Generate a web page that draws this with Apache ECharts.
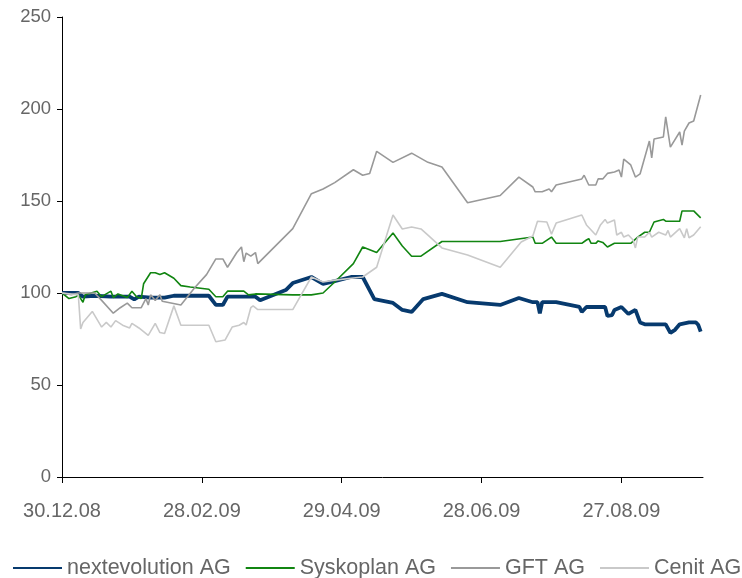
<!DOCTYPE html>
<html>
<head>
<meta charset="utf-8">
<script src="https://cdn.jsdelivr.net/npm/echarts@6/dist/echarts.min.js"></script>
<style>
html,body{margin:0;padding:0;background:#fff;}
#chart{width:742px;height:578px;}
</style>
</head>
<body>
<div id="chart"></div>
<script>
// x values are days after 30.12.2008
var seriesNames = ['nextevolution AG', 'Syskoplan AG', 'GFT AG', 'Cenit AG'];

var nextDays = [0,7,9,14,21,29,31,33,38,44,48,63,66,69,71,83,85,96,99,107,112,117,124,129,134,142,146,150,155,163,174,188,196,202,204,205,206,212,222,223,225,233,234,236,237,240,243,246,248,250,259,261,263,265,269,272,273,274];
var nextVals = [100,100,98,98.5,98,98,96.5,98,97.5,97.5,98.5,98.5,93.5,93.5,98,98,96,101.6,105.4,108.7,105,106.5,108.7,108.7,96.7,94.6,90.8,89.7,96.7,99.5,95,93.5,97.3,95,95,89,95,95,92.4,89.7,92.4,92.4,87.5,88,90.8,92.4,88.6,90.8,84,83,83,78.3,80,83,84,84,82.6,79];

var sysDays = [0,3,6,7,9,10,15,17,21,22,24,28,30,32,34,35,38,40,42,44,48,51,55,63,66,69,71,78,80,83,99,107,112,117,125,129,135,142,146,150,154,163,174,188,202,203,206,210,212,223,225,226,227,229,230,232,234,237,244,247,250,252,254,258,259,265,266,271,274];
var sysVals = [100,97,98,99,95,99,101,98,101,97.5,99.5,97.5,101,98,97,105,111,111,110,111,108,104,103.3,102,98,98,101,101,99,99.5,99,99,100,106,116,125,122,132.6,125.5,120,120,128,128,128,130.4,127,127,130.4,127,127,128.8,129.5,127,127,128.3,127.5,125,127,127,130.4,133,133,138.6,140,139,139,144.6,144.6,140.8];

var gftDays = [0,4,7,14,17,22,25,28,30,34,36,37,38,40,42,43,51,57,62,66,69,71,75,77,78,79,81,83,84,99,107,112,117,125,129,132,135,142,150,157,163,174,188,196,202,203,206,209,210,212,223,224,226,229,230,232,234,237,239,240,241,244,246,248,252,253,254,258,259,261,265,266,267,269,271,274];
var gftVals = [100,99,100,100,96,89,92,94.5,92,92,97,93.5,99,96,99,95.5,93.5,103,110,118.5,118.5,114,122,125,117,121.7,120,122,116,135,154,156.5,160,167,164,165,177,171,176,171,168.5,149,153,163,157.6,155,155,156.5,155,158.7,162,164,158.7,158.7,162,162,165,165.8,166.8,163,172.8,169.6,163,164.7,182.6,173.4,183.7,184.8,195.7,179.3,187.5,180.4,188,192.4,193.5,207.6];

var cenDays = [0,7,8,9,13,17,19,21,23,26,29,30,33,37,40,42,44,48,51,63,66,70,73,76,78,79,81,82,84,99,107,112,117,129,135,142,146,150,154,157,163,174,188,197,202,204,208,210,212,223,225,229,231,233,234,237,238,240,241,243,245,246,247,250,252,253,256,259,260,261,265,267,268,269,271,274];
var cenVals = [100,99,80.5,84,90,81.5,84,81.5,85,82.5,81,83.5,81,77,83.5,78.5,78,93,82.5,82.5,73.5,74.5,81.5,82.5,84,82.6,92,93,91,91,108.7,106,107,108.7,114,142.4,134.8,135.9,134.8,131.5,124.5,120.6,114,127.7,131,139,138.6,132,138,142.4,137,131.5,137,140,138,139.7,131.5,133,130.4,131.5,128.8,124.5,130.4,130.4,133,130.4,133,131.5,134,130.4,135,130,135,130,131.5,136];

var xTickDays = [0, 60, 120, 180, 240];
var xTickLabels = ['30.12.08', '28.02.09', '29.04.09', '28.06.09', '27.08.09'];
var yTicks = [0, 50, 100, 150, 200, 250];

function pairs(d, v) { return d.map(function (x, i) { return [x, v[i]]; }); }

var FONT = 'Liberation Sans';
var TXT = '#666666';
var chart = echarts.init(document.getElementById('chart'), null, {renderer: 'canvas'});
chart.setOption({
  animation: false,
  backgroundColor: '#ffffff',
  grid: {left: 62, right: 39, top: 17, bottom: 101, containLabel: false},
  legend: {
    left: 12, top: 557, width: 742, padding: 0,
    itemWidth: 49, itemHeight: 14, itemGap: 14,
    itemStyle: {opacity: 0},
    textStyle: {fontFamily: FONT, fontSize: 21.5, color: TXT},
    data: seriesNames
  },
  xAxis: {
    type: 'value', min: 0, max: 275,
    splitLine: {show: false},
    axisLine: {lineStyle: {color: '#000', width: 1}},
    axisTick: {show: true, length: 6, inside: false, customValues: xTickDays, lineStyle: {color: '#000'}},
    axisLabel: {
      customValues: xTickDays,
      margin: 24, fontFamily: FONT, fontSize: 20, color: TXT,
      formatter: function (v) { var i = xTickDays.indexOf(v); return i >= 0 ? xTickLabels[i] : ''; }
    }
  },
  yAxis: {
    type: 'value', min: yTicks[0], max: yTicks[yTicks.length - 1], interval: 50,
    splitLine: {show: false},
    axisLine: {show: true, lineStyle: {color: '#000', width: 1}},
    axisTick: {show: true, length: 5, inside: false, lineStyle: {color: '#000'}},
    axisLabel: {margin: 11, fontFamily: FONT, fontSize: 18.5, color: TXT}
  },
  series: [
    {name: seriesNames[0], type: 'line', symbol: 'none', data: pairs(nextDays, nextVals),
     lineStyle: {color: '#073a6e', width: 3.8}, itemStyle: {color: '#073a6e'}},
    {name: seriesNames[1], type: 'line', symbol: 'none', data: pairs(sysDays, sysVals),
     lineStyle: {color: '#118511', width: 1.6}, itemStyle: {color: '#118511'}},
    {name: seriesNames[2], type: 'line', symbol: 'none', data: pairs(gftDays, gftVals),
     lineStyle: {color: '#999999', width: 1.6}, itemStyle: {color: '#999999'}},
    {name: seriesNames[3], type: 'line', symbol: 'none', data: pairs(cenDays, cenVals),
     lineStyle: {color: '#c9c9c9', width: 1.6}, itemStyle: {color: '#c9c9c9'}}
  ]
});
</script>
</body>
</html>
